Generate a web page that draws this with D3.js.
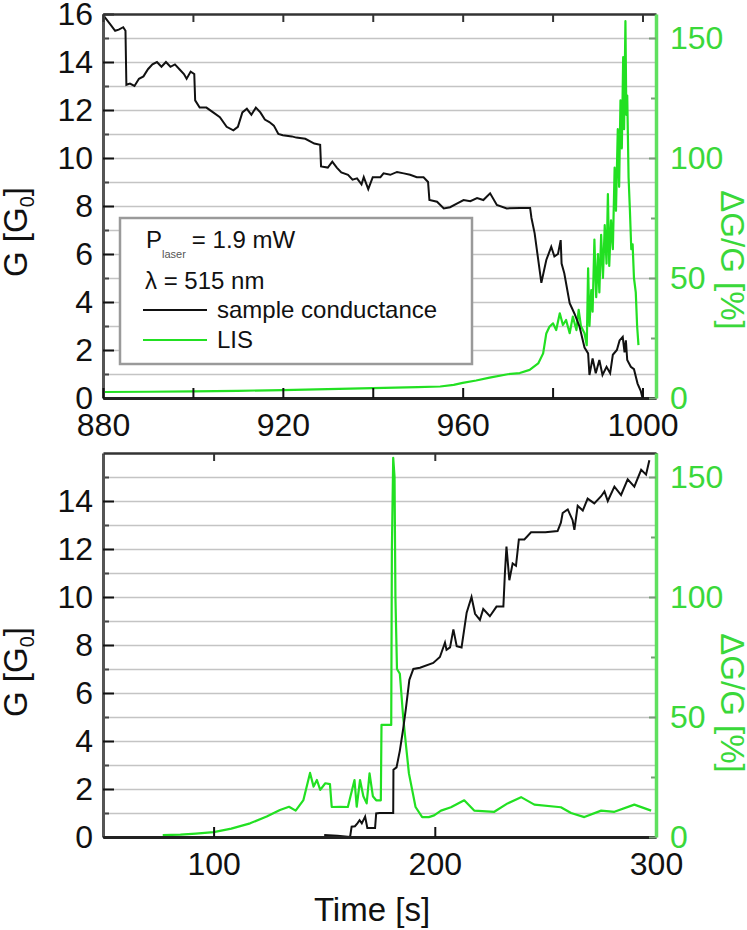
<!DOCTYPE html>
<html>
<head>
<meta charset="utf-8">
<script src="https://cdn.jsdelivr.net/npm/d3@7"></script>
<style>
  body { margin: 0; background: #fff; }
  svg text { font-family: "Liberation Sans", Arial, sans-serif; }
</style>
</head>
<body>
<svg id="chart" width="747" height="930"></svg>
<script>
// ---- data: [time (s), value] ----
const topConductance = [
  [880,15.96],[881.5,15.6],[882.7,15.3],[883.5,15.35],[884.5,15.45],[885,15.3],[885.2,13.05],
  [886,13.1],[887,13.0],[888,13.3],[889,13.4],[890,13.7],[891,13.9],[892,14.0],[893,13.8],
  [894,14.0],[895,13.8],[896,13.9],[897,13.7],[898,13.5],[898.6,13.3],[899.5,13.6],[900.3,13.5],
  [900.5,12.4],[901.5,12.1],[903,12.1],[904.5,11.9],[906,11.7],[907.5,11.3],[909,11.15],[910,11.3],
  [911,11.9],[912,12.05],[913,11.8],[914,12.1],[915,11.9],[916,11.6],[917,11.5],[918,11.35],
  [919,11.0],[920,10.95],[922,10.9],[923,10.85],[925,10.8],[927,10.6],[928.3,10.55],[928.5,9.65],
  [930,9.6],[931,9.85],[932,9.6],[933,9.4],[934.5,9.3],[935.5,9.1],[936.5,9.15],[937.5,8.9],
  [938,9.2],[939,8.7],[940,9.2],[941.7,9.2],[942.4,9.36],[943.9,9.3],[945.4,9.42],[946.9,9.36],
  [948.3,9.3],[949.8,9.2],[951.3,9.2],[952.3,9.0],[952.6,8.25],[954.3,8.18],[955.8,7.9],[957.2,7.95],
  [958.7,8.1],[960.2,8.25],[961.7,8.2],[963.2,8.33],[964.6,8.25],[966.1,8.53],[967.6,8.04],
  [969.8,7.9],[972.8,7.92],[975,7.92],[975.3,7.5],[976,6.87],[977.5,4.8],[978.6,5.75],[979.7,6.3],
  [980.4,5.9],[981.2,6.0],[981.8,6.58],[982,5.6],[982.6,5.2],[983.8,3.95],[984.9,3.5],[986,2.97],
  [987.1,2.1],[987.9,1.86],[988.2,0.96],[988.9,1.65],[989.6,1.03],[990.4,1.58],[991.1,0.96],
  [992,1.3],[992.8,1.03],[993.4,1.8],[994.3,2.0],[994.9,2.4],[995.6,2.55],[996,1.9],[996.3,2.4],
  [996.6,1.58],[997.4,1.3],[998.1,1.2],[998.9,0.6],[999.6,0.3],[1000,0]
];
const topLis = [
  [880,2.5],[890,2.6],[900,2.8],[910,3.0],[920,3.3],[930,3.7],[940,4.1],[950,4.5],[955,4.8],
  [958,5.5],[960,6.3],[963,7.3],[966,8.5],[970,9.9],[972.7,10.4],[974.9,11.7],[976.8,14.4],
  [977.9,18.6],[978.6,26.9],[979.3,29.7],[980.1,31.1],[980.8,28.3],[981.6,35.3],[982.3,30.4],
  [983,32.5],[983.8,27],[984.5,33.9],[985.3,28.3],[985.8,36.7],[986.3,30],[987.1,27],[987.6,22],
  [987.9,54],[988.2,30],[988.6,45],[988.9,36],[989.3,66],[989.7,42],[990.1,60],[990.4,44],
  [990.8,68],[991.2,50],[991.6,72],[992,56],[992.3,85],[992.6,55],[993,74],[993.4,62],[993.8,96],
  [994.1,78],[994.5,112],[994.8,88],[995.1,124],[995.4,104],[995.7,142],[995.9,112],[996.2,157],
  [996.4,118],[996.6,126],[996.9,92],[997.2,78],[997.5,62],[997.8,64],[998.1,50],[998.5,44],
  [998.8,30],[999.1,22]
];
const bottomConductance = [
  [150,0.08],[156,0.05],[161.7,0],[162.4,0.43],[163.9,0.45],[165,0.57],[166,0.7],[167,0.57],
  [168.5,0.85],[169.5,0.38],[173,0.38],[173.5,0.98],[175,1.0],[179,1.0],[181.2,1.0],[181.3,2.8],
  [182.7,2.9],[184.2,3.6],[185.7,4.5],[187,5.4],[188.5,6.55],[190.3,7.0],[193.3,7.05],[199.3,7.25],
  [202.3,7.5],[204.6,8.1],[205.3,7.8],[206.9,7.9],[208.4,8.65],[209.9,7.95],[212.1,7.9],[214.4,9.35],
  [216.6,10.0],[218.2,9.3],[220.4,9.05],[221.9,9.5],[224.9,9.2],[227.9,9.6],[231,9.6],[231.7,11.0],
  [232.4,12.1],[233.7,10.7],[235.2,11.4],[236.7,11.3],[238,12.4],[240.5,12.4],[243.5,12.7],
  [250,12.7],[255.5,12.75],[257,13.1],[257.8,13.5],[260.1,13.65],[262.3,13.2],[263.1,12.8],
  [264.6,13.8],[266.9,13.6],[269.1,14.1],[272.1,13.9],[275.2,14.2],[276.7,14.4],[278.2,14.0],
  [281.2,14.6],[284.2,14.25],[287.2,14.9],[290.2,14.6],[293.3,15.3],[295.5,15.1],[297,15.7]
];
const bottomLis = [
  [77,0.8],[85,1.0],[92,1.4],[100,2.0],[108,3.5],[116.5,5.7],[124,8.5],[130,11.25],[134.1,12.6],
  [137.1,11],[140.6,15.4],[143.6,26.7],[145.2,21],[146.7,23.75],[148.2,19.6],[150.5,22.4],
  [152.6,22],[153.4,12.5],[157.2,12.6],[160.7,12.5],[163.7,23.75],[164.7,12.6],[166.2,23.75],
  [167.7,17],[169.2,14],[170.5,26.5],[172,17],[173.5,15.3],[175.6,15.3],[175.9,46.7],[180.3,46.7],
  [180.6,120],[181.2,158],[181.8,150],[182.2,100],[182.9,70],[184.2,68],[185.7,50],[187,38],
  [188.3,26.5],[191.3,12.5],[194.3,8.3],[197.3,8.3],[199.7,9],[202.8,11],[207.3,12.4],[213.3,15.3],
  [217.8,11],[226.9,10.5],[232.9,14],[239,16.6],[245,13.5],[257,12.4],[261.6,10],[267.6,8.3],
  [275.2,11],[281.2,10.5],[290.2,13.5],[297.8,11]
];

const topTimeTicks = [880, 920, 960, 1000];
const topTimeMinor = [900, 940, 980];
const bottomTimeTicks = [100, 200, 300];
const topGTicks = [0, 2, 4, 6, 8, 10, 12, 14, 16];
const bottomGTicks = [0, 2, 4, 6, 8, 10, 12, 14];
const lisTicks = [0, 50, 100, 150];
const lisMinor = [25, 75, 125];

const green = "#22e022";
const left = 103, right = 656;
const svg = d3.select("#chart");

function drawPanel(cfg, i) {
  const x = d3.scaleLinear().domain(cfg.xDomain).range([left, right]);
  const y = d3.scaleLinear().domain([0, 16]).range([cfg.bottom, cfg.top]);
  const y2 = d3.scaleLinear().domain([0, 160]).range([cfg.bottom, cfg.top]);
  const g = svg.append("g");

  // horizontal grid every 1 G0
  g.append("g")
    .attr("transform", `translate(${left},0)`)
    .call(d3.axisLeft(y).tickValues(d3.range(1, 16)).tickSize(-(right - left)).tickFormat(""))
    .call(s => s.select(".domain").remove())
    .selectAll("line").attr("stroke", "#c4c4c4").attr("stroke-width", 1.6);

  svg.append("clipPath").attr("id", "clip" + i)
    .append("rect").attr("x", left).attr("y", cfg.top - 2)
    .attr("width", right - left).attr("height", cfg.bottom - cfg.top + 2);

  const plot = g.append("g").attr("clip-path", `url(#clip${i})`);
  plot.append("path").datum(cfg.lis)
    .attr("fill", "none").attr("stroke", green).attr("stroke-width", 2.2)
    .attr("stroke-linejoin", "round")
    .attr("d", d3.line().x(d => x(d[0])).y(d => y2(d[1])));
  plot.append("path").datum(cfg.conductance)
    .attr("fill", "none").attr("stroke", "#111").attr("stroke-width", 2)
    .attr("d", d3.line().x(d => x(d[0])).y(d => y(d[1])));

  // left axis
  g.append("g").attr("transform", `translate(${left},0)`)
    .call(d3.axisLeft(y).tickValues(d3.range(1, 16, 2)).tickSize(-6).tickFormat(""))
    .call(s => s.select(".domain").remove())
    .selectAll("line").attr("stroke", "#444").attr("stroke-width", 2);
  const la = g.append("g").attr("transform", `translate(${left},0)`)
    .call(d3.axisLeft(y).tickValues(cfg.gTicks).tickSizeInner(-11).tickSizeOuter(0).tickPadding(10));
  la.select(".domain").attr("stroke", "#555").attr("stroke-width", 3);
  la.selectAll("line").attr("stroke", "#111").attr("stroke-width", 2);
  la.selectAll("text").attr("font-size", 32).attr("fill", "#111").attr("font-family", null);

  // bottom and top axes
  const ba = g.append("g").attr("transform", `translate(0,${cfg.bottom})`)
    .call(d3.axisBottom(x).tickValues(cfg.xTicks).tickFormat(d3.format("d"))
      .tickSizeInner(-10).tickSizeOuter(0).tickPadding(15));
  ba.select(".domain").attr("stroke", "#222").attr("stroke-width", 3);
  ba.selectAll("line").attr("stroke", "#111").attr("stroke-width", 2);
  ba.selectAll("text").attr("font-size", 32).attr("fill", "#111").attr("font-family", null);
  if (cfg.xMinor.length) {
    g.append("g").attr("transform", `translate(0,${cfg.bottom})`)
      .call(d3.axisBottom(x).tickValues(cfg.xMinor).tickSize(-10).tickFormat(""))
      .call(s => s.select(".domain").remove())
      .selectAll("line").attr("stroke", "#111").attr("stroke-width", 2);
  }
  const ta = g.append("g").attr("transform", `translate(0,${cfg.top})`)
    .call(d3.axisTop(x).tickValues(cfg.xTicks.concat(cfg.xMinor)).tickSizeInner(-8).tickSizeOuter(0).tickFormat(""));
  ta.select(".domain").attr("stroke", "#333").attr("stroke-width", 2.5);
  ta.selectAll("line").attr("stroke", "#333").attr("stroke-width", 2);

  // right LIS axis
  g.append("g").attr("transform", `translate(${right},0)`)
    .call(d3.axisRight(y2).tickValues(lisMinor).tickSize(-5).tickFormat(""))
    .call(s => s.select(".domain").remove())
    .selectAll("line").attr("stroke", "#7a9a7a").attr("stroke-width", 2);
  const ra = g.append("g").attr("transform", `translate(${right},0)`)
    .call(d3.axisRight(y2).tickValues(lisTicks).tickSizeInner(-7).tickSizeOuter(0).tickPadding(14));
  ra.select(".domain").attr("stroke", "#5fe05f").attr("stroke-width", 3.5);
  ra.selectAll("line").attr("stroke", "#7a9a7a").attr("stroke-width", 2);
  ra.selectAll("text").attr("font-size", 32).attr("fill", "#3ad83a").attr("font-family", null);

  // axis titles
  const gl = g.append("text")
    .attr("transform", `translate(27,${cfg.gLabelY}) rotate(-90)`)
    .attr("text-anchor", "middle").attr("font-size", 33).attr("fill", "#111");
  gl.append("tspan").text("G [G");
  gl.append("tspan").attr("font-size", 20).attr("dy", 7).text("0");
  gl.append("tspan").attr("dy", -7).text("]");

  g.append("text")
    .attr("transform", `translate(721,${cfg.lisLabelY}) rotate(90)`)
    .attr("text-anchor", "middle").attr("font-size", 33).attr("fill", "#3ad83a")
    .text("ΔG/G [%]");

  return { x, y };
}

drawPanel({
  top: 14, bottom: 398, xDomain: [880, 1003], xTicks: topTimeTicks, xMinor: topTimeMinor,
  gTicks: topGTicks, conductance: topConductance, lis: topLis, gLabelY: 232, lisLabelY: 260
}, 0);
drawPanel({
  top: 453, bottom: 837, xDomain: [50, 300], xTicks: bottomTimeTicks, xMinor: [],
  gTicks: bottomGTicks, conductance: bottomConductance, lis: bottomLis, gLabelY: 672, lisLabelY: 703
}, 1);

svg.append("text").attr("x", 372).attr("y", 921).attr("text-anchor", "middle")
  .attr("font-size", 33).attr("fill", "#111").text("Time [s]");

// legend
const lg = svg.append("g");
lg.append("rect").attr("x", 120).attr("y", 218).attr("width", 352).attr("height", 146)
  .attr("fill", "#fff").attr("stroke", "#9a9a9a").attr("stroke-width", 2.5);
const p = lg.append("text").attr("x", 146).attr("y", 248).attr("font-size", 24).attr("fill", "#111");
p.append("tspan").text("P");
p.append("tspan").attr("font-size", 11).attr("dy", 10).attr("fill", "#555").text("laser");
p.append("tspan").attr("dy", -10).attr("dx", 6).text("= 1.9 mW");
lg.append("text").attr("x", 145).attr("y", 289).attr("font-size", 24).attr("fill", "#111").text("λ = 515 nm");
lg.append("line").attr("x1", 143).attr("x2", 207).attr("y1", 310).attr("y2", 310)
  .attr("stroke", "#111").attr("stroke-width", 2);
lg.append("text").attr("x", 217).attr("y", 318).attr("font-size", 24).attr("fill", "#111").text("sample conductance");
lg.append("line").attr("x1", 143).attr("x2", 207).attr("y1", 340).attr("y2", 340)
  .attr("stroke", green).attr("stroke-width", 2);
lg.append("text").attr("x", 217).attr("y", 348).attr("font-size", 24).attr("fill", "#111").text("LIS");
</script>
</body>
</html>
